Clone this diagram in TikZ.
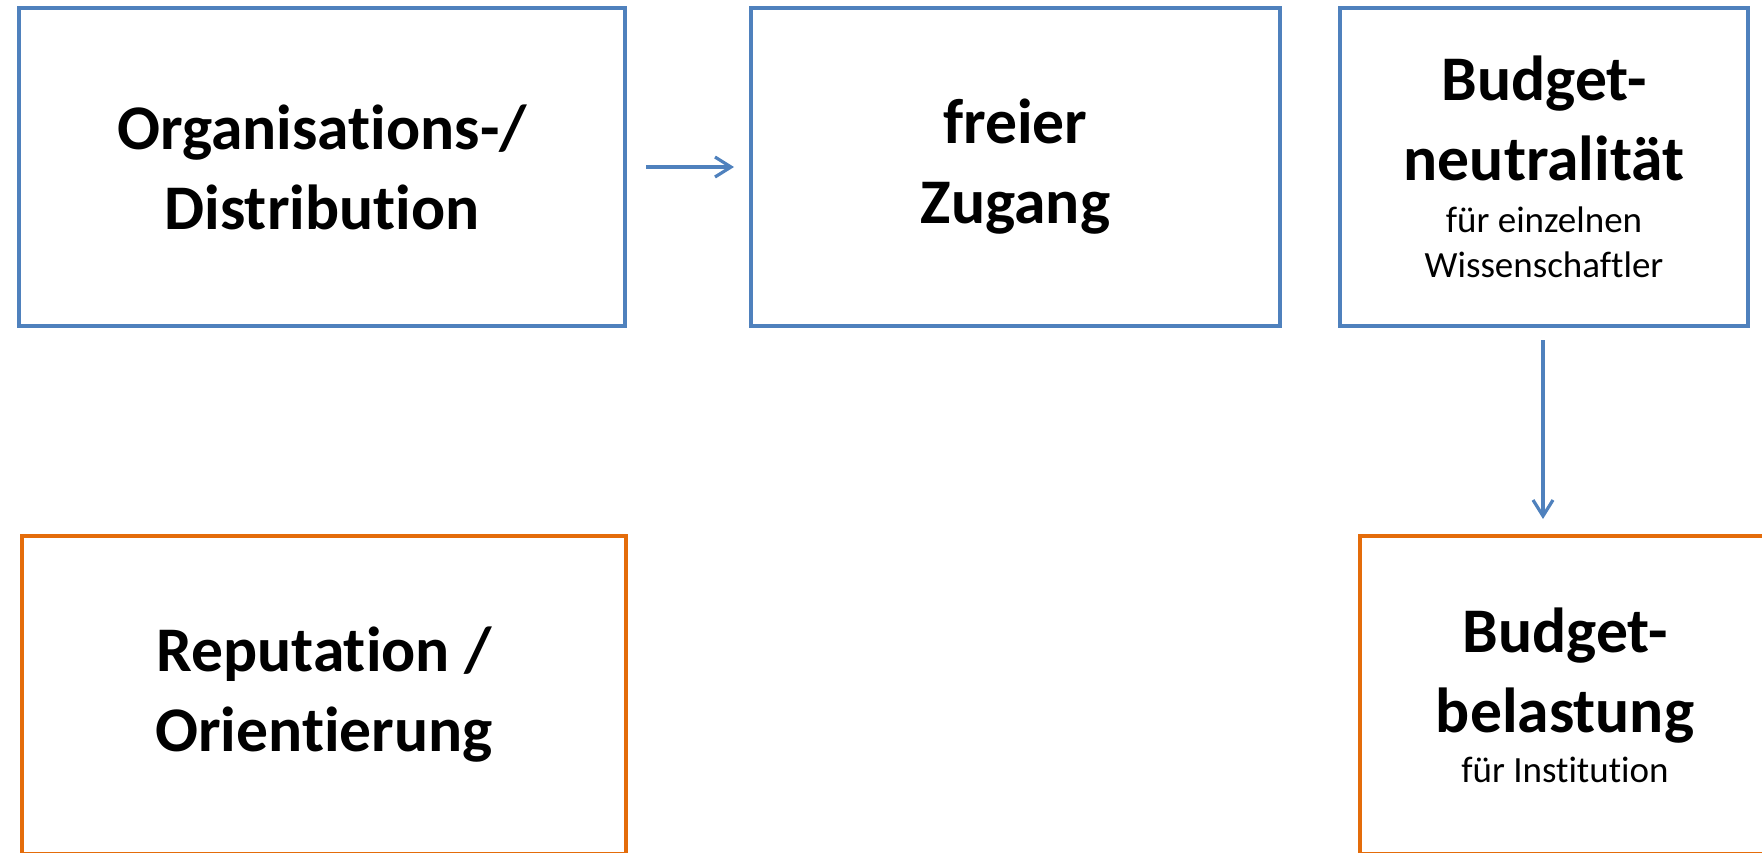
\documentclass[tikz,border=0pt]{standalone}
\usepackage{fontspec}
\setmainfont{Carlito}[RawFeature={-liga;-clig;-dlig}]
\usetikzlibrary{arrows.meta}
\definecolor{boxblue}{RGB}{79,129,189}
\definecolor{boxorange}{RGB}{228,108,10}
\tikzset{
  px/.style={x=0.5pt,y=-0.5pt},
  box/.style={draw,line width=2pt,inner sep=0pt,align=center,
    font=\fontsize{31.8}{40}\selectfont\bfseries},
  bluebox/.style={box,draw=boxblue},
  orangebox/.style={box,draw=boxorange},
  conn/.style={draw=boxblue,line width=1.6pt,-{Straight Barb[length=8pt,width=10pt]}},
}
\newcommand{\subtxt}[1]{{\fontsize{18.5}{25}\mdseries\selectfont #1}}
\begin{document}
\begin{tikzpicture}[px]
\useasboundingbox (0,0) rectangle (1762,852);
\clip (0,0) rectangle (1762,852);
\node[bluebox,minimum width=303pt,minimum height=159pt] (org) at (322,167) {Organisations-/\\Distribution};
\node[bluebox,minimum width=264.5pt,minimum height=159pt] (frei) at (1015.5,167) {freier\\Zugang};
\node[bluebox,minimum width=204pt,minimum height=159pt] (neut) at (1544,167)
  {Budget-\\neutralität\\[-14pt]\subtxt{für einzelnen}\\[-17.5pt]\subtxt{Wissenschaftler}};
\node[orangebox,minimum width=302pt,minimum height=159pt] (rep) at (324,695) {Reputation /\\Orientierung};
\node[orangebox,minimum width=205pt,minimum height=159pt] (bel) at (1565,695)
  {Budget-\\belastung\\[-15pt]\subtxt{für Institution}};
\coordinate (h1) at (646,167);
\coordinate (h2) at (734,167);
\coordinate (v1) at (1543,340);
\coordinate (v2) at (1543,519);
\draw[conn] (h1) -- (h2);
\draw[conn] (v1) -- (v2);
\end{tikzpicture}
\end{document}
